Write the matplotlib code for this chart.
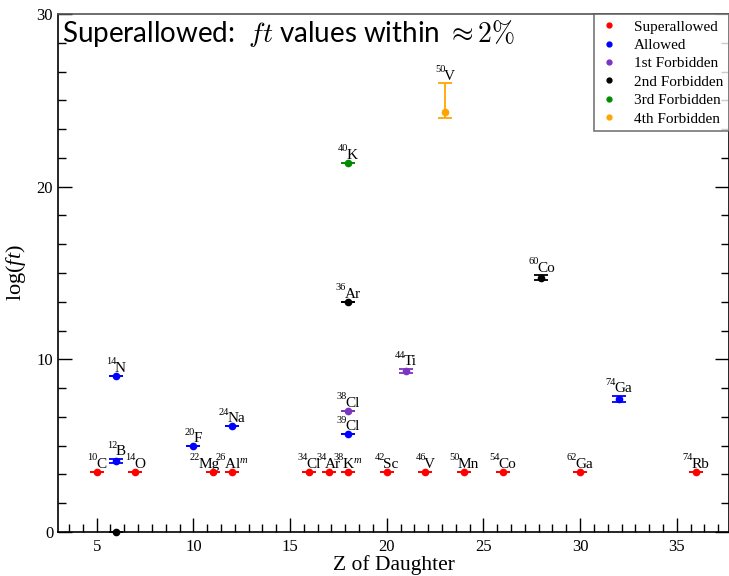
import numpy as np
import matplotlib
matplotlib.use('Agg')
import matplotlib.pyplot as plt
from matplotlib.ticker import MultipleLocator
from matplotlib.offsetbox import TextArea, HPacker, VPacker, DrawingArea, AnnotationBbox

plt.rcParams['font.family'] = 'Liberation Serif'
plt.rcParams['mathtext.fontset'] = 'custom'
plt.rcParams['mathtext.rm'] = 'Liberation Serif'
plt.rcParams['mathtext.it'] = 'Liberation Serif:italic'

# --- data: Z of daughter, log(ft), errors, mass number, element ---
saZ     = [5, 7, 11, 12, 16, 17, 18, 20, 22, 24, 26, 30, 36]
saLogft = [3.49] * 13
saErr   = [0.0] * 13
saMass  = ['10', '14', '22', '26', '34', '34', '38', '42', '46', '50', '54', '62', '74']
saElem  = ['C', 'O', 'Mg', r'Al$^{m}$', 'Cl', 'Ar', r'K$^{m}$', 'Sc', 'V', 'Mn', 'Co', 'Ga', 'Rb']

alZ     = [6, 6, 10, 12, 18, 32]
alLogft = [9.04, 4.11, 4.98, 6.14, 5.67, 7.70]
alErr   = [0.0, 0.12, 0.0, 0.0, 0.0, 0.17]
alMass  = ['14', '12', '20', '24', '39', '74']
alElem  = ['N', 'B', 'F', 'Na', 'Cl', 'Ga']

f1Z     = [18, 21]
f1Logft = [7.02, 9.32]
f1Err   = [0.0, 0.12]
f1Mass  = ['38', '44']
f1Elem  = ['Cl', 'Ti']

f2Z     = [6, 18, 28]
f2Logft = [0.0, 13.34, 14.72]
f2Err   = [0.0, 0.0, 0.14]
f2Mass  = ['', '36', '60']
f2Elem  = ['', 'Ar', 'Co']

f3Z     = [18]
f3Logft = [21.39]
f3Err   = [0.0]
f3Mass  = ['40']
f3Elem  = ['K']

f4Z     = [23]
f4Logft = [24.34]
f4ErrLo = [0.39]
f4ErrHi = [1.64]
f4Mass  = ['50']
f4Elem  = ['V']

# label x shifts (points) where labels would collide
labelShift = {('22', 'Mg'): -6}

series = [
  ('Superallowed',  '#ff0000', saZ, saLogft, saErr, saErr, saMass, saElem),
  ('Allowed',       '#0000ff', alZ, alLogft, alErr, alErr, alMass, alElem),
  ('1st Forbidden', '#7b36c2', f1Z, f1Logft, f1Err, f1Err, f1Mass, f1Elem),
  ('2nd Forbidden', '#000000', f2Z, f2Logft, f2Err, f2Err, f2Mass, f2Elem),
  ('3rd Forbidden', '#008c00', f3Z, f3Logft, f3Err, f3Err, f3Mass, f3Elem),
  ('4th Forbidden', '#ffa500', f4Z, f4Logft, f4ErrLo, f4ErrHi, f4Mass, f4Elem),
]

def isoLabel(ax, x, y, mass, elem, dx):
  sup    = TextArea(mass, textprops=dict(fontsize=7.5))
  spacer = DrawingArea(0.1, 6.3)
  left   = VPacker(children=[sup, spacer], sep=0, pad=0, align='right')
  el     = TextArea(elem, textprops=dict(fontsize=11))
  box    = HPacker(children=[left, el], sep=-1.2, pad=0, align='bottom')
  ab = AnnotationBbox(box, (x, y), xybox=(dx, 0.5), xycoords='data', boxcoords='offset points',
                      box_alignment=(0.5, 0), frameon=False, pad=0, annotation_clip=False)
  ax.add_artist(ab)

fig = plt.figure(figsize=(7.29, 5.76), dpi=100)
ax = fig.add_axes([58/729, 1-532/576, 1-58/729, (532-14)/576])

for name, col, z, v, eLo, eHi, mass, elem in series:
  ax.errorbar(z, v, yerr=[eLo, eHi], fmt='o', color=col, mec=col, ms=4.5,
              elinewidth=1.3, capsize=4.7, capthick=1.3, clip_on=False, zorder=3)
  ax.plot([], [], 'o', color=col, ms=3.5, label=name)
  for zi, vi, hi, m, e in zip(z, v, eHi, mass, elem):
    if m == '':
      continue
    isoLabel(ax, zi, vi + hi, m, e, labelShift.get((m, e), 0))

ax.set_xlim(3, 37.7)
ax.set_ylim(0, 30)
ax.xaxis.set_major_locator(MultipleLocator(5))
ax.xaxis.set_minor_locator(MultipleLocator(5/7))
ax.yaxis.set_major_locator(MultipleLocator(10))
ax.yaxis.set_minor_locator(MultipleLocator(10/6))
ax.tick_params(which='both', direction='in', right=True, top=False, labelsize=12, width=1)
ax.tick_params(which='major', length=10)
ax.tick_params(which='minor', length=6)
ax.tick_params(axis='x', pad=5)
for s in ax.spines.values():
  s.set_linewidth(1.2)
ax.spines['top'].set_color('#555555')

ax.set_xlabel('Z of Daughter', fontsize=15.5, labelpad=0)
ax.set_ylabel(r'log($ft$)', fontsize=16, labelpad=6)

ax.text(0.006, 0.992, r'Superallowed:  $ft$ values within $\approx 2\%$', transform=ax.transAxes,
        ha='left', va='top', fontsize=20, family='Lato', math_fontfamily='cm')

leg = ax.legend(loc='upper right', borderaxespad=0, fontsize=11, frameon=True, fancybox=False,
                handlelength=1.2, handletextpad=1.0, labelspacing=0.31, borderpad=0.38)
leg.get_frame().set_edgecolor('#555555')
leg.get_frame().set_linewidth(1.2)

fig.savefig('out.png', dpi=100)
